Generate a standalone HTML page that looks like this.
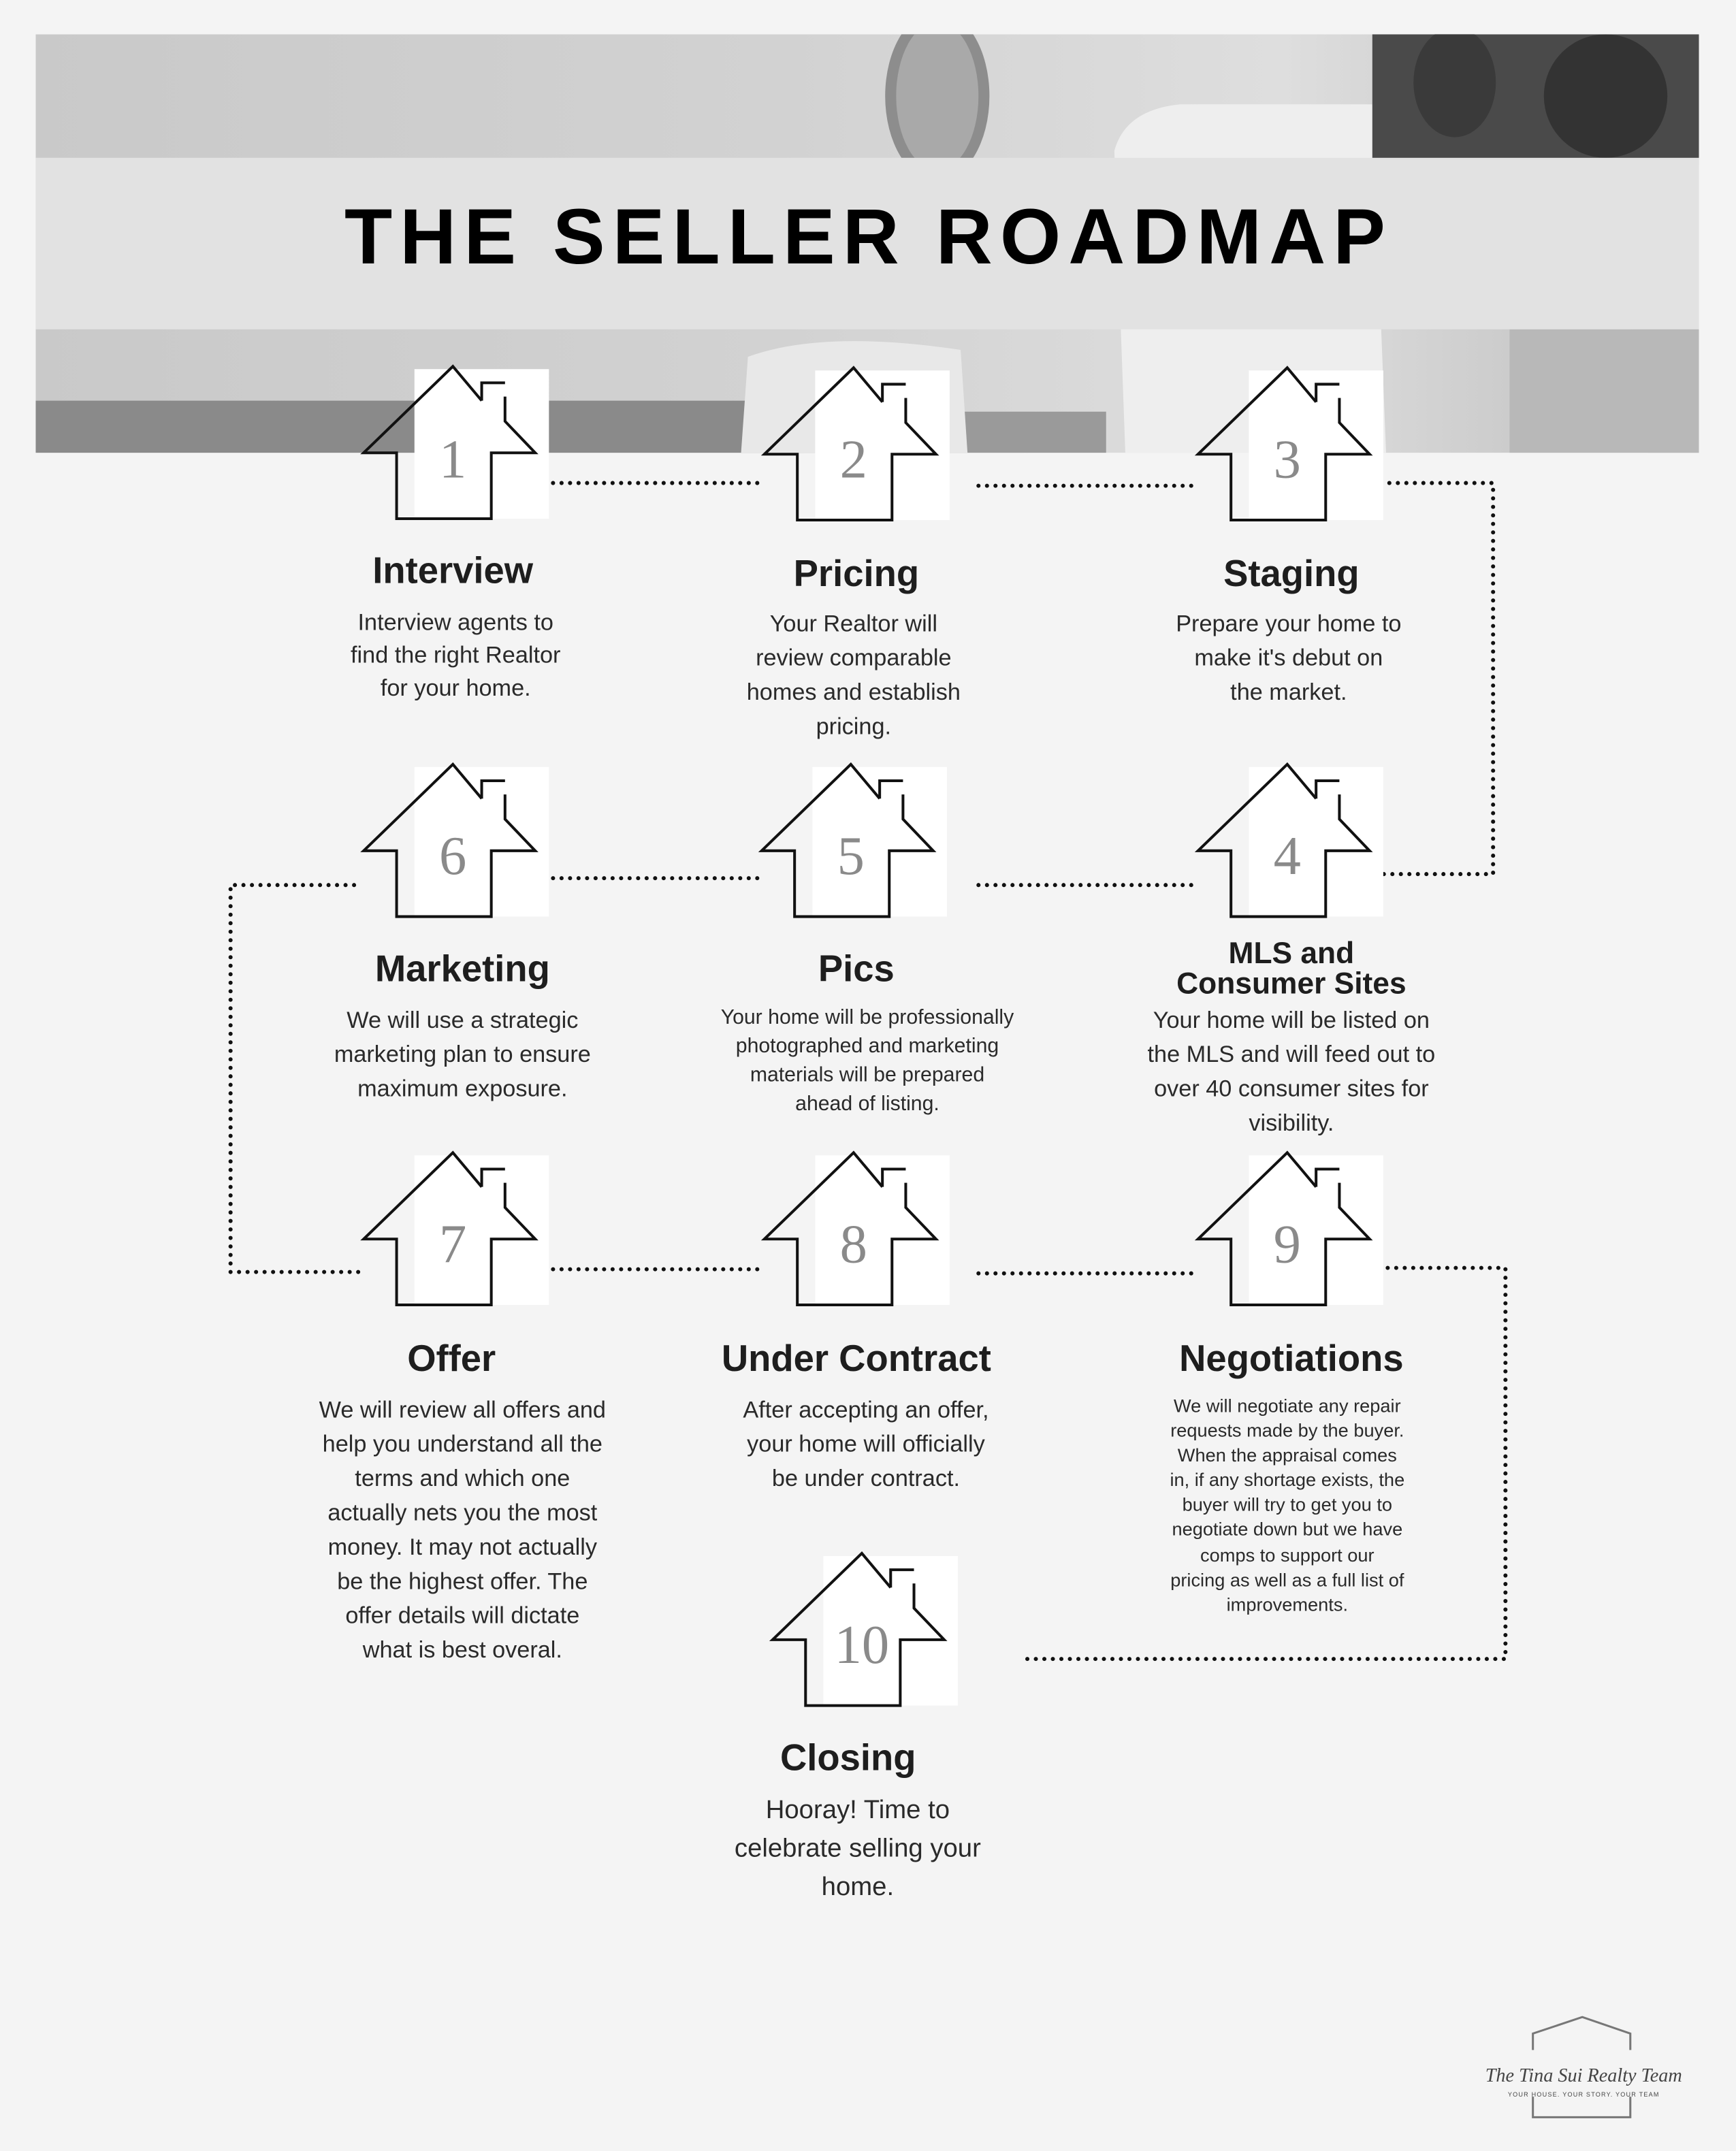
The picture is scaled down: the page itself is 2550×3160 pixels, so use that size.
<!DOCTYPE html>
<html><head><meta charset="utf-8"><style>
html,body{margin:0;padding:0;background:#f4f4f4;}
svg{display:block;}
.h{font-family:"Liberation Sans",sans-serif;font-weight:bold;fill:#1e1e1e;text-anchor:middle;}
.b{font-family:"Liberation Sans",sans-serif;fill:#2a2a2a;text-anchor:middle;}
.n{font-family:"Liberation Serif",serif;fill:#8a8a8a;text-anchor:middle;font-size:40px;}
.d{fill:none;stroke:#111;stroke-width:3;stroke-linecap:round;stroke-dasharray:0 6.2;}
</style></head><body>
<svg width="2550" height="3160" viewBox="0 0 1265 1567.6" xmlns="http://www.w3.org/2000/svg">
<defs>
<linearGradient id="bg" x1="0" y1="0" x2="1" y2="0">
<stop offset="0" stop-color="#c9c9c9"/><stop offset="0.45" stop-color="#d2d2d2"/><stop offset="0.75" stop-color="#dedede"/><stop offset="1" stop-color="#bdbdbd"/>
</linearGradient>
<clipPath id="ph"><rect x="26" y="25" width="1212" height="305"/></clipPath>
<g id="house">
<rect x="-28" y="2" width="98" height="109" fill="#fff"/>
<path d="M21,25 L0,0 L-65,63 L-41,63 L-41,111 L28,111 L28,63 L60,63 L38,40 L38,22" fill="none" stroke="#111" stroke-width="2"/>
<path d="M21,25 L21,12 L38,12" fill="none" stroke="#111" stroke-width="2"/>
</g>
</defs>
<rect width="1265" height="1568" fill="#f4f4f4"/>
<g clip-path="url(#ph)">
<rect x="26" y="25" width="1212" height="305" fill="url(#bg)"/>
<rect x="26" y="292" width="560" height="38" fill="#8a8a8a"/>
<rect x="586" y="300" width="220" height="30" fill="#9a9a9a"/>
<ellipse cx="683" cy="70" rx="38" ry="62" fill="#8d8d8d"/>
<ellipse cx="683" cy="70" rx="30" ry="54" fill="#a9a9a9"/>
<path d="M812 110 Q820 80 860 76 L1000 76 L1010 330 L820 330 Z" fill="#eeeeee"/>
<rect x="1000" y="25" width="238" height="95" fill="#4a4a4a"/>
<ellipse cx="1060" cy="60" rx="30" ry="40" fill="#3a3a3a"/>
<ellipse cx="1170" cy="70" rx="45" ry="45" fill="#333"/>
<rect x="1100" y="240" width="138" height="90" fill="#b8b8b8"/>
<path d="M540 330 L545 260 Q600 240 700 255 L705 330 Z" fill="#e8e8e8"/>
</g>
<rect x="26" y="115" width="1212" height="125" fill="#e2e2e2"/>
<text x="633" y="192" class="h" style="font-size:57px;letter-spacing:5.5px;fill:#000;font-weight:900">THE SELLER ROADMAP</text>

<path class="d" d="M403 352 H553"/>
<path class="d" d="M713 354 H870"/>
<path class="d" d="M1000 352 H1088 V637 H1000"/>
<path class="d" d="M713 645 H870"/>
<path class="d" d="M403 640 H553"/>
<path class="d" d="M258 645 H168 V927 H265"/>
<path class="d" d="M403 925 H553"/>
<path class="d" d="M713 928 H870"/>
<path class="d" d="M1005 924 H1097 V1209 H748"/>

<use href="#house" x="330" y="267"/><text class="n" x="330" y="348">1</text>
<use href="#house" x="622" y="268"/><text class="n" x="622" y="348">2</text>
<use href="#house" x="938" y="268"/><text class="n" x="938" y="348">3</text>
<use href="#house" x="938" y="557"/><text class="n" x="938" y="637">4</text>
<use href="#house" x="620" y="557"/><text class="n" x="620" y="637">5</text>
<use href="#house" x="330" y="557"/><text class="n" x="330" y="637">6</text>
<use href="#house" x="330" y="840"/><text class="n" x="330" y="920">7</text>
<use href="#house" x="622" y="840"/><text class="n" x="622" y="920">8</text>
<use href="#house" x="938" y="840"/><text class="n" x="938" y="920">9</text>
<use href="#house" x="628" y="1132"/><text class="n" x="628" y="1212">10</text>

<text class="h" x="330" y="425" font-size="27">Interview</text>
<text class="b" font-size="17"><tspan x="332" y="459">Interview agents to</tspan><tspan x="332" y="483">find the right Realtor</tspan><tspan x="332" y="507">for your home.</tspan></text>
<text class="h" x="624" y="427" font-size="27">Pricing</text>
<text class="b" font-size="17"><tspan x="622" y="460">Your Realtor will</tspan><tspan x="622" y="485">review comparable</tspan><tspan x="622" y="510">homes and establish</tspan><tspan x="622" y="535">pricing.</tspan></text>
<text class="h" x="941" y="427" font-size="27">Staging</text>
<text class="b" font-size="17"><tspan x="939" y="460">Prepare your home to</tspan><tspan x="939" y="485">make it's debut on</tspan><tspan x="939" y="510">the market.</tspan></text>

<text class="h" x="337" y="715" font-size="27">Marketing</text>
<text class="b" font-size="17"><tspan x="337" y="749">We will use a strategic</tspan><tspan x="337" y="774">marketing plan to ensure</tspan><tspan x="337" y="799">maximum exposure.</tspan></text>
<text class="h" x="624" y="715" font-size="27">Pics</text>
<text class="b" font-size="15"><tspan x="632" y="746">Your home will be professionally</tspan><tspan x="632" y="767">photographed and marketing</tspan><tspan x="632" y="788">materials will be prepared</tspan><tspan x="632" y="809">ahead of listing.</tspan></text>
<text class="h" font-size="22"><tspan x="941" y="702">MLS and</tspan><tspan x="941" y="724">Consumer Sites</tspan></text>
<text class="b" font-size="17"><tspan x="941" y="749">Your home will be listed on</tspan><tspan x="941" y="774">the MLS and will feed out to</tspan><tspan x="941" y="799">over 40 consumer sites for</tspan><tspan x="941" y="824">visibility.</tspan></text>

<text class="h" x="329" y="999" font-size="27">Offer</text>
<text class="b" font-size="17"><tspan x="337" y="1033">We will review all offers and</tspan><tspan x="337" y="1058">help you understand all the</tspan><tspan x="337" y="1083">terms and which one</tspan><tspan x="337" y="1108">actually nets you the most</tspan><tspan x="337" y="1133">money. It may not actually</tspan><tspan x="337" y="1158">be the highest offer. The</tspan><tspan x="337" y="1183">offer details will dictate</tspan><tspan x="337" y="1208">what is best overal.</tspan></text>
<text class="h" x="624" y="999" font-size="27">Under Contract</text>
<text class="b" font-size="17"><tspan x="631" y="1033">After accepting an offer,</tspan><tspan x="631" y="1058">your home will officially</tspan><tspan x="631" y="1083">be under contract.</tspan></text>
<text class="h" x="941" y="999" font-size="27">Negotiations</text>
<text class="b" font-size="13.5"><tspan x="938" y="1029">We will negotiate any repair</tspan><tspan x="938" y="1047">requests made by the buyer.</tspan><tspan x="938" y="1065">When the appraisal comes</tspan><tspan x="938" y="1083">in, if any shortage exists, the</tspan><tspan x="938" y="1101">buyer will try to get you to</tspan><tspan x="938" y="1119">negotiate down but we have</tspan><tspan x="938" y="1138">comps to support our</tspan><tspan x="938" y="1156">pricing as well as a full list of</tspan><tspan x="938" y="1174">improvements.</tspan></text>

<text class="h" x="618" y="1290" font-size="27">Closing</text>
<text class="b" font-size="19"><tspan x="625" y="1325">Hooray! Time to</tspan><tspan x="625" y="1353">celebrate selling your</tspan><tspan x="625" y="1381">home.</tspan></text>

<path d="M1117 1494 V1482 L1153 1470 L1188 1482 V1494 M1117 1528 V1543 H1188 V1528" fill="none" stroke="#777" stroke-width="1.5"/>
<text x="1154" y="1517" font-family="Liberation Serif,serif" font-style="italic" font-size="14" fill="#444" text-anchor="middle">The Tina Sui Realty Team</text>
<text x="1154" y="1528" font-family="Liberation Sans,sans-serif" font-size="4.5" fill="#444" text-anchor="middle" letter-spacing="0.6">YOUR HOUSE. YOUR STORY. YOUR TEAM</text>
</svg>
</body></html>
